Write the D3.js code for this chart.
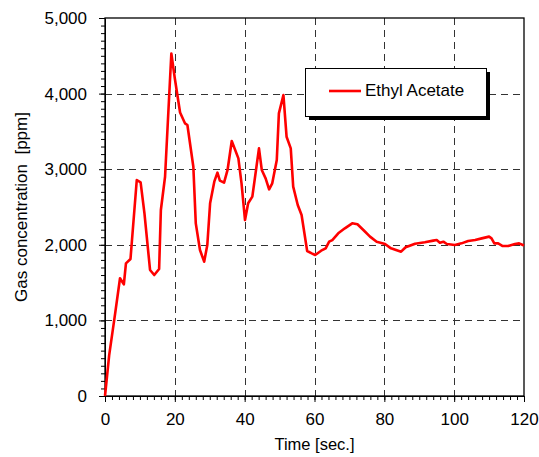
<!DOCTYPE html>
<html lang="en">
<head>
  <meta charset="UTF-8">
  <title>Gas concentration - Ethyl Acetate</title>
  <style>
    body {
      margin: 0;
      background: #fff;
      font-family: Arial, 'Liberation Sans', sans-serif;
    }
    .axis text {
      font-size: 17px;
      fill: #000;
    }
    .axis path, .axis line {
      stroke: #000;
    }
    .grid line {
      stroke: #333;
      stroke-dasharray: 7,5;
    }
  </style>
</head>
<body>
  <div id="chart"></div>

  <script src="https://d3js.org/d3.v7.min.js"></script>
  <script>
    // Ethyl acetate reading
    const timeSec = [0, 1.2, 2.9, 4.3, 5.4, 6.0, 7.3, 9.1, 10.2, 11.3, 12.9, 14.1, 15.5, 16.0, 17.2,
      19.0, 20.0, 21.5, 22.9, 23.6, 25.3, 26.0, 27.2, 28.4, 29.3, 30.1, 31.3, 32.2, 32.9, 34.1,
      35.1, 36.3, 38.2, 39.1, 40.1, 41.0, 42.2, 44.1, 44.9, 46.0, 47.0, 47.9, 49.2, 49.8, 51.1,
      52.0, 53.2, 53.9, 55.2, 56.3, 57.9, 59.2, 60.2, 61.9, 63.2, 64.2, 65.1, 66.8, 68.7, 70.8,
      72.3, 74.0, 75.9, 77.8, 80.2, 81.9, 84.8, 86.1, 88.8, 91.6, 94.0, 95.0, 95.9, 96.9, 97.9,
      100.2, 102.1, 104.0, 106.0, 107.9, 110.0, 110.7, 111.5, 112.6, 113.9, 115.5, 117.4, 118.6, 120];
    const ethylAcetate = [0, 540, 1090, 1557, 1477, 1755, 1812, 2857, 2826, 2416, 1667, 1600, 1680, 2460, 2900,
      4530, 4200, 3750, 3607, 3585, 3033, 2284, 1931, 1777, 1997, 2549, 2835, 2954, 2849, 2822,
      2990, 3373, 3143, 2812, 2328, 2549, 2637, 3276, 2990, 2879, 2734, 2813, 3122, 3739, 3981,
      3430, 3276, 2769, 2526, 2394, 1918, 1887, 1865, 1922, 1953, 2041, 2063, 2152, 2218, 2284,
      2271, 2196, 2108, 2041, 2011, 1953, 1909, 1967, 2015, 2033, 2055, 2063, 2028, 2041, 2011,
      1997, 2019, 2050, 2063, 2085, 2108, 2085, 2019, 2019, 1984, 1984, 2011, 2019, 1990];

    const xTicks = [0, 20, 40, 60, 80, 100, 120];
    const yTicks = [0, 1000, 2000, 3000, 4000, 5000];
    const seriesName = 'Ethyl Acetate';

    const width = 539, height = 457;
    const margin = { top: 18, right: 15, bottom: 61, left: 105 };
    const innerW = width - margin.left - margin.right;
    const innerH = height - margin.top - margin.bottom;

    const svg = d3.select('#chart').append('svg')
      .attr('width', width)
      .attr('height', height);

    const g = svg.append('g')
      .attr('transform', `translate(${margin.left},${margin.top})`);

    const x = d3.scaleLinear().domain([0, 120]).range([0, innerW]);
    const y = d3.scaleLinear().domain([0, 5000]).range([innerH, 0]);

    // dashed grid
    g.append('g').attr('class', 'grid')
      .selectAll('line')
      .data(xTicks.slice(1, -1))
      .join('line')
      .attr('x1', d => Math.round(x(d)) + 0.5).attr('x2', d => Math.round(x(d)) + 0.5)
      .attr('y1', 0).attr('y2', innerH);

    g.append('g').attr('class', 'grid')
      .selectAll('line')
      .data(yTicks.slice(1, -1))
      .join('line')
      .attr('y1', d => Math.round(y(d)) + 0.5).attr('y2', d => Math.round(y(d)) + 0.5)
      .attr('x1', 0).attr('x2', innerW);

    // minor ticks
    g.append('g').attr('class', 'axis')
      .attr('transform', `translate(0,${innerH})`)
      .call(d3.axisBottom(x).tickValues(d3.range(0, 121, 2)).tickSize(4).tickFormat(''))
      .call(a => a.select('.domain').remove());

    g.append('g').attr('class', 'axis')
      .call(d3.axisLeft(y).tickValues(d3.range(0, 5001, 100)).tickSize(4).tickFormat(''))
      .call(a => a.select('.domain').remove());

    // major ticks + labels
    g.append('g').attr('class', 'axis')
      .attr('transform', `translate(0,${innerH})`)
      .call(d3.axisBottom(x).tickValues(xTicks).tickSize(6).tickPadding(11).tickSizeOuter(0));

    g.append('g').attr('class', 'axis')
      .call(d3.axisLeft(y).tickValues(yTicks).tickFormat(d3.format(',')).tickSize(6).tickPadding(12).tickSizeOuter(0));

    // frame
    g.append('rect')
      .attr('width', innerW).attr('height', innerH)
      .attr('fill', 'none').attr('stroke', '#000').attr('stroke-width', 1.3);

    // series line
    const line = d3.line()
      .x((d, i) => x(timeSec[i]))
      .y(d => y(d));

    g.append('path')
      .datum(ethylAcetate)
      .attr('fill', 'none')
      .attr('stroke', '#ff0000')
      .attr('stroke-width', 2.6)
      .attr('stroke-linejoin', 'round')
      .attr('d', line);

    // axis titles
    svg.append('text')
      .attr('x', margin.left + innerW / 2)
      .attr('y', 450)
      .attr('text-anchor', 'middle')
      .style('font-size', '16.5px')
      .text('Time [sec.]');

    svg.append('text')
      .attr('transform', `translate(27,${margin.top + innerH / 2}) rotate(-90)`)
      .attr('text-anchor', 'middle')
      .style('font-size', '17px')
      .style('white-space', 'pre')
      .text('Gas concentration  [ppm]');

    // legend with drop shadow
    const lg = svg.append('g').attr('transform', 'translate(305,68)');
    lg.append('rect').attr('x', 4).attr('y', 4).attr('width', 181).attr('height', 48).attr('fill', '#000');
    lg.append('rect').attr('x', 0.5).attr('y', 0.5).attr('width', 181).attr('height', 48)
      .attr('fill', '#fff').attr('stroke', '#000');
    lg.append('line').attr('x1', 24).attr('x2', 56).attr('y1', 23).attr('y2', 23)
      .attr('stroke', '#ff0000').attr('stroke-width', 2.6);
    lg.append('text').attr('x', 60).attr('y', 27.5)
      .style('font-size', '17px')
      .text(seriesName);
  </script>
</body>
</html>
